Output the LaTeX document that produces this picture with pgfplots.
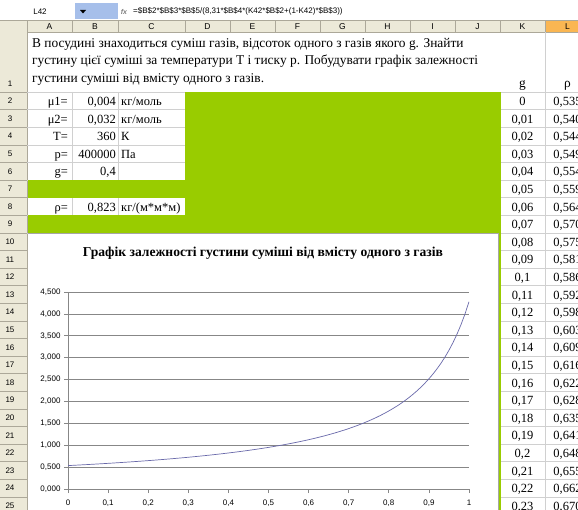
\documentclass[border=0pt]{standalone}
\usepackage{pgfplots}
\usepackage{pgfplotstable}
\pgfplotsset{compat=1.18}
\usepackage{fontspec}
\setmainfont{Liberation Serif}
\newfontfamily\sansf{Liberation Sans}

\definecolor{xlgreen}{RGB}{153,204,0}
\definecolor{hdr}{RGB}{236,233,216}
\definecolor{hdrline}{RGB}{172,168,153}
\definecolor{cellgrid}{RGB}{208,208,208}
\definecolor{selhdr}{RGB}{250,182,82}
\definecolor{nbox}{RGB}{166,191,234}
\definecolor{gridc}{RGB}{135,135,135}
\definecolor{series}{RGB}{105,105,170}

% g -- rho, kg/m^3 (column K/L of the sheet)
\pgfplotstableread{
g rho
0.00 0.53483
0.01 0.53955
0.02 0.54436
0.03 0.54925
0.04 0.55423
0.05 0.55930
0.06 0.56447
0.07 0.56973
0.08 0.57509
0.09 0.58055
0.10 0.58612
0.11 0.59179
0.12 0.59758
0.13 0.60348
0.14 0.60950
0.15 0.61563
0.16 0.62190
0.17 0.62829
0.18 0.63482
0.19 0.64148
0.20 0.64828
0.21 0.65523
0.22 0.66233
0.23 0.66959
0.24 0.67700
0.25 0.68458
0.26 0.69234
0.27 0.70027
0.28 0.70839
0.29 0.71669
0.30 0.72519
0.31 0.73390
0.32 0.74282
0.33 0.75196
0.34 0.76133
0.35 0.77093
0.36 0.78078
0.37 0.79088
0.38 0.80125
0.39 0.81189
0.40 0.82282
0.41 0.83404
0.42 0.84558
0.43 0.85745
0.44 0.86964
0.45 0.88219
0.46 0.89511
0.47 0.90842
0.48 0.92212
0.49 0.93625
0.50 0.95081
0.51 0.96584
0.52 0.98134
0.53 0.99735
0.54 1.01390
0.55 1.03100
0.56 1.04869
0.57 1.06699
0.58 1.08595
0.59 1.10559
0.60 1.12596
0.61 1.14709
0.62 1.16903
0.63 1.19182
0.64 1.21552
0.65 1.24019
0.66 1.26587
0.67 1.29264
0.68 1.32057
0.69 1.34973
0.70 1.38021
0.71 1.41209
0.72 1.44549
0.73 1.48050
0.74 1.51725
0.75 1.55587
0.76 1.59651
0.77 1.63933
0.78 1.68451
0.79 1.73225
0.80 1.78277
0.81 1.83633
0.82 1.89321
0.83 1.95372
0.84 2.01823
0.85 2.08715
0.86 2.16093
0.87 2.24013
0.88 2.32535
0.89 2.41732
0.90 2.51685
0.91 2.62494
0.92 2.74272
0.93 2.87158
0.94 3.01313
0.95 3.16937
0.96 3.34269
0.97 3.53607
0.98 3.75320
0.99 3.99874
1.00 4.27865
}\densitydata

\begin{document}
\begin{tikzpicture}
\useasboundingbox (0,0) rectangle (578pt,-510pt);
\clip (0,0) rectangle (578pt,-510pt);
\begin{scope}[x=1pt,y=-1pt]
  \fill[white] (0,0) rectangle (578,510);
  % formula bar
  \fill[nbox] (75,3) rectangle (118,19);
  \fill[black] (80,10) -- (86,10) -- (83,13.5) -- cycle;
  \node[font=\sansf\fontsize{8}{9}\selectfont] at (40,11.5) {L42};
  \node[font=\sansf\bfseries\itshape\fontsize{7}{8}\selectfont, text=gray] at (124,11.5) {fx};
  \node[anchor=west, inner sep=0, font=\sansf\fontsize{8}{9}\selectfont] at (133,11.5)
    {=\$B\$2*\$B\$3*\$B\$5/(8,31*\$B\$4*(K42*\$B\$2+(1-K42)*\$B\$3))};
  \draw[hdrline] (0,20.5) -- (578,20.5);
  % column headers
  \fill[hdr] (0,21) rectangle (578,32);
  \fill[selhdr] (545,21) rectangle (578,32);
  \draw[hdrline] (0,32) -- (578,32);
  \foreach \x in {27,72,118,185,230,275,320,365,410,455,500,545}
    \draw[hdrline] (\x,21) -- (\x,32);
  \foreach \c/\x in {A/49.5,B/95,C/151.5,D/207.5,E/252.5,F/297.5,G/342.5,H/387.5,I/432.5,J/477.5,K/522.5,L/567.5}
    \node[font=\sansf\fontsize{8.5}{9}\selectfont] at (\x,26.7) {\c};
  % row headers
  \fill[hdr] (0,32) rectangle (27,510);
  \draw[hdrline] (27,32) -- (27,510);
  \draw[hdrline] (0,92) -- (27,92);
  \node[font=\sansf\fontsize{8}{9}\selectfont] at (10,84) {1};
  \foreach \n in {2,...,25}{
    \pgfmathsetmacro{\yt}{92+(\n-2)*17.6}
    \draw[hdrline] (0,\yt+17.6) -- (27,\yt+17.6);
    \node[font=\sansf\fontsize{8}{9}\selectfont] at (10,\yt+9) {\n};
  }
  % cell grid, columns A-C and K-L
  \foreach \n in {0,...,5,7,8}
    \draw[cellgrid] (27,92+\n*17.6) -- (185,92+\n*17.6);
  \foreach \x in {72,118}{
    \draw[cellgrid] (\x,92) -- (\x,180);
    \draw[cellgrid] (\x,197.6) -- (\x,215.2);
  }
  \foreach \n in {0,...,24}
    \draw[cellgrid] (500,92+\n*17.6) -- (578,92+\n*17.6);
  \draw[cellgrid] (545,32) -- (545,510);
  % green fill
  \fill[xlgreen] (185,92) rectangle (500.5,233);
  \fill[xlgreen] (27.5,180) rectangle (185,197.6);
  \fill[xlgreen] (27.5,215.2) rectangle (185,233);
  \fill[xlgreen] (497,233) rectangle (500.5,510);
  % chart area
  \fill[white] (27.5,233) rectangle (498,520);
  \draw[gray!70, line width=0.5pt] (27.5,233) -- (498,233) -- (498,520);
  % task text, row 1
  \begin{scope}[every node/.style={anchor=base west, inner sep=0, font=\fontsize{13.4}{15}\selectfont}]
    \node at (32,47.5) {В посудині знаходиться суміш газів, відсоток одного з газів якого g. Знайти};
    \node at (32,65) {густину цієї суміші за температури T і тиску p. Побудувати графік залежності};
    \node at (32,82.5) {густини суміші від вмісту одного з газів.};
  \end{scope}
  \node[anchor=base, inner sep=0, font=\fontsize{13.4}{15}\selectfont] at (522.5,87.5) {g};
  \node[anchor=base, inner sep=0, font=\fontsize{13.4}{15}\selectfont] at (567.5,87.5) {ρ};
  % input cells
  \begin{scope}[every node/.style={inner sep=0, font=\fontsize{12.5}{14}\selectfont}]
    \foreach \r/\a/\b/\c in {2/μ1=/{0,004}/{кг/моль}, 3/μ2=/{0,032}/{кг/моль}, 4/T=/360/К,
        5/p=/400000/Па, 6/g=/{0,4}/{}, 8/ρ=/{0,823}/{кг/(м*м*м)}}{
      \pgfmathsetmacro{\yb}{92+(\r-2)*17.6+13.5}
      \node[anchor=base east] at (68,\yb) {\a};
      \node[anchor=base east] at (116,\yb) {\b};
      \node[anchor=base west] at (121,\yb) {\c};
    }
    \foreach \r/\gv/\rv in {2/0/{0,535},3/{0,01}/{0,540},4/{0,02}/{0,544},5/{0,03}/{0,549},
        6/{0,04}/{0,554},7/{0,05}/{0,559},8/{0,06}/{0,564},9/{0,07}/{0,570},10/{0,08}/{0,575},
        11/{0,09}/{0,581},12/{0,1}/{0,586},13/{0,11}/{0,592},14/{0,12}/{0,598},15/{0,13}/{0,603},
        16/{0,14}/{0,609},17/{0,15}/{0,616},18/{0,16}/{0,622},19/{0,17}/{0,628},20/{0,18}/{0,635},
        21/{0,19}/{0,641},22/{0,2}/{0,648},23/{0,21}/{0,655},24/{0,22}/{0,662},25/{0,23}/{0,670}}{
      \pgfmathsetmacro{\yb}{92+(\r-2)*17.6+13.5}
      \node[anchor=base] at (522.5,\yb) {\gv};
      \node[anchor=base] at (567.5,\yb) {\rv};
    }
  \end{scope}
  % chart title
  \node[font=\bfseries\fontsize{13.6}{15}\selectfont] at (263,253)
    {Графік залежності густини суміші від вмісту одного з газів};
\end{scope}

\begin{axis}[
    at={(68pt,-489pt)}, anchor=south west,
    scale only axis, width=401pt, height=197pt,
    xmin=0, xmax=1, ymin=0, ymax=4.5,
    axis lines=left,
    axis line style={draw=gridc, line width=0.7pt, -},
    xtick distance=0.1, ytick distance=0.5,
    tick align=outside, major tick length=4pt,
    tick style={draw=gridc, line width=0.7pt},
    ymajorgrids=true,
    grid style={draw=gridc, line width=0.7pt},
    tick label style={font=\sansf\fontsize{8}{9}\selectfont},
    /pgf/number format/assume math mode=true,
    yticklabel style={/pgf/number format/.cd, fixed, fixed zerofill, precision=3, use comma},
    xticklabel style={yshift=-3pt, /pgf/number format/.cd, fixed, precision=1, use comma},
]
\addplot[series, line width=0.7pt, no markers] table[x=g, y=rho] {\densitydata};
\end{axis}
\end{tikzpicture}
\end{document}
